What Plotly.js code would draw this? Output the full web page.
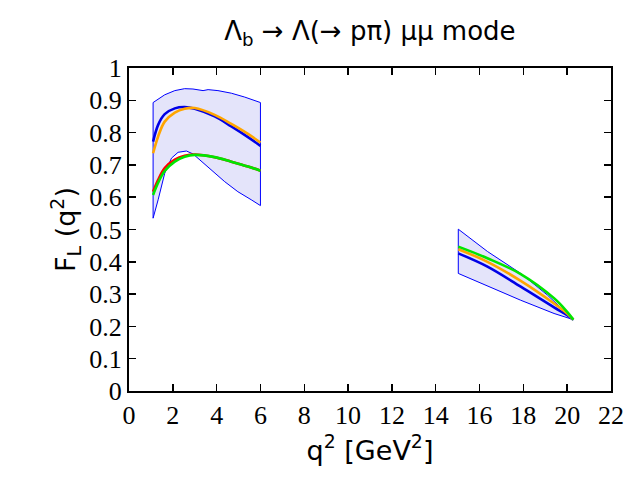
<!DOCTYPE html>
<html>
<head>
<meta charset="utf-8">
<script src="https://cdn.plot.ly/plotly-3.0.1.min.js"></script>
<style>html,body{margin:0;padding:0;background:#fff;}#plot{width:640px;height:480px;}</style>
</head>
<body>
<div id="plot"></div>
<script>
// Low q2 bin: band edges
const lowUpperQ = [1.1, 1.63, 2.09, 2.54, 2.92, 3.38, 3.61, 4.06, 4.67, 5.28, 6.0];
const lowUpperF = [0.893, 0.917, 0.930, 0.936, 0.935, 0.930, 0.933, 0.930, 0.922, 0.910, 0.893];
const lowLowerQ = [1.1, 1.33, 1.63, 1.94, 2.24, 2.62, 2.92, 3.23, 3.76, 4.37, 4.97, 5.58, 6.0];
const lowLowerF = [0.535, 0.592, 0.674, 0.721, 0.739, 0.743, 0.734, 0.716, 0.685, 0.648, 0.617, 0.592, 0.574];
// Low q2 bin: central curves
const lowQ = [1.1, 1.33, 1.63, 2.09, 2.54, 3.0, 3.91, 4.67, 5.43, 6.0];
const lowBlue   = [0.772, 0.824, 0.857, 0.875, 0.879, 0.874, 0.850, 0.819, 0.786, 0.759];
const lowOrange = [0.736, 0.788, 0.834, 0.862, 0.874, 0.876, 0.855, 0.827, 0.796, 0.769];
const lowRed    = [0.617, 0.654, 0.690, 0.716, 0.728, 0.732, 0.724, 0.710, 0.695, 0.682];
const lowGreen  = [0.607, 0.645, 0.681, 0.710, 0.725, 0.731, 0.724, 0.710, 0.695, 0.682];
// High q2 bin: band edges
const highUpperQ = [15.03, 16.36, 17.88, 19.1, 20.28];
const highUpperF = [0.501, 0.432, 0.364, 0.297, 0.221];
const highLowerQ = [15.03, 16.36, 17.88, 19.4, 20.28];
const highLowerF = [0.364, 0.326, 0.281, 0.240, 0.221];
// High q2 bin: central curves
const highQ = [15.03, 16.36, 17.88, 19.4, 20.0, 20.28];
const highBlue   = [0.426, 0.385, 0.323, 0.259, 0.235, 0.221];
const highOrange = [0.439, 0.400, 0.341, 0.271, 0.240, 0.221];
const highGreen  = [0.447, 0.411, 0.362, 0.287, 0.245, 0.221];

const xTicks = [0,2,4,6,8,10,12,14,16,18,20,22];
const yTicks = [0,0.1,0.2,0.3,0.4,0.5,0.6,0.7,0.8,0.9,1];
const yTickText = ['0','0.1','0.2','0.3','0.4','0.5','0.6','0.7','0.8','0.9','1'];

function band(uq, uf, lq, lf) {
  const x = uq.concat(lq.slice().reverse(), [uq[0]]);
  const y = uf.concat(lf.slice().reverse(), [uf[0]]);
  return {x: x, y: y, mode: 'lines', fill: 'toself', fillcolor: 'rgb(228,228,250)',
          line: {color: 'rgb(0,0,255)', width: 1}, hoverinfo: 'skip', showlegend: false};
}
function curve(x, y, color) {
  return {x: x, y: y, mode: 'lines', line: {color: color, width: 2.6, shape: 'spline', smoothing: 1.0}, showlegend: false};
}

const traces = [
  band(lowUpperQ, lowUpperF, lowLowerQ, lowLowerF),
  band(highUpperQ, highUpperF, highLowerQ, highLowerF),
  curve(lowQ, lowBlue, 'rgb(0,0,230)'),
  curve(lowQ, lowOrange, 'rgb(255,165,0)'),
  curve(lowQ, lowRed, 'rgb(255,0,0)'),
  curve(lowQ, lowGreen, 'rgb(0,230,0)'),
  curve(highQ, highBlue, 'rgb(0,0,230)'),
  curve(highQ, highOrange, 'rgb(255,165,0)'),
  curve(highQ, highGreen, 'rgb(0,230,0)')
];

const axisCommon = {
  showgrid: false, zeroline: false, showline: true, linecolor: '#000', linewidth: 2,
  mirror: 'ticks', ticks: 'inside', ticklen: 7, tickwidth: 1.5, tickcolor: '#000',
  tickfont: {family: 'Liberation Serif, serif', size: 26, color: '#000'}
};

const layout = {
  width: 640, height: 480,
  margin: {l: 128.5, r: 29, t: 68.3, b: 89.3},
  paper_bgcolor: '#fff', plot_bgcolor: '#fff',
  title: {text: 'Λ<sub>b</sub> → Λ(→ pπ) μμ mode', font: {family: 'DejaVu Sans, sans-serif', size: 26, color: '#000'},
          x: 0.578, xanchor: 'center', y: 0.935, yanchor: 'middle'},
  xaxis: Object.assign({}, axisCommon, {range: [0, 22], tickvals: xTicks, ticktext: xTicks.map(String),
          title: {text: 'q<sup>2</sup> [GeV<sup>2</sup>]', font: {family: 'DejaVu Sans, sans-serif', size: 27, color: '#000'}, standoff: 6}}),
  yaxis: Object.assign({}, axisCommon, {range: [0, 1], tickvals: yTicks, ticktext: yTickText,
          title: {text: 'F<sub>L</sub> (q<sup>2</sup>)', font: {family: 'DejaVu Sans, sans-serif', size: 27, color: '#000'}, standoff: 6}})
};

Plotly.newPlot('plot', traces, layout, {displayModeBar: false, staticPlot: true});
</script>
</body>
</html>
